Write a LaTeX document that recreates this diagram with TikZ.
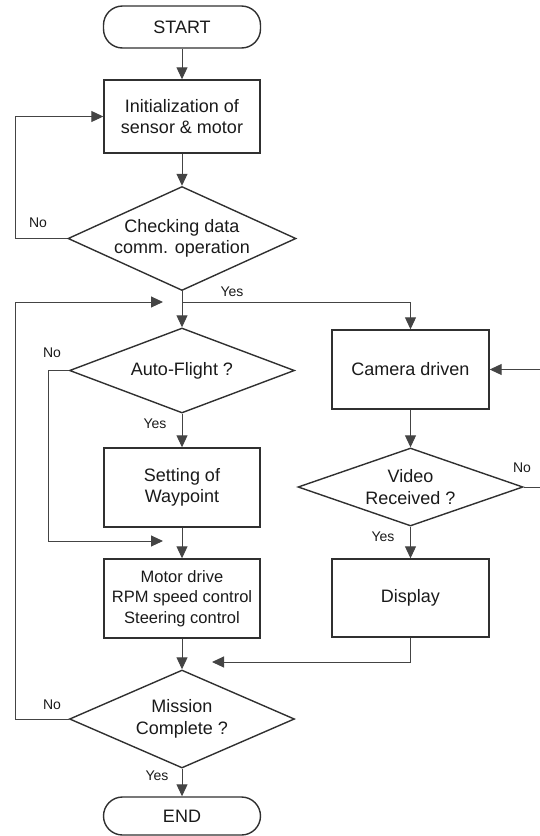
\documentclass[tikz,border=0pt]{standalone}
\usepackage{fontspec}
\setmainfont{Liberation Sans}
\usetikzlibrary{arrows.meta,shapes.geometric}
\definecolor{edgegray}{HTML}{444444}
\definecolor{boxline}{HTML}{303030}
\definecolor{inkc}{HTML}{1A1A1A}
\begin{document}
\begin{tikzpicture}[x=1pt,y=-1pt,
  base/.style={draw=boxline,line width=1.4pt,text=inkc,
    font=\fontsize{18pt}{21.5pt}\selectfont,align=center,inner sep=0pt},
  terminal/.style={base,rectangle,rounded corners=19pt,minimum width=157pt},
  process/.style={base,rectangle,minimum width=156pt,minimum height=79pt},
  decision/.style={base,diamond,shape aspect=2.2},
  flow/.style={draw=edgegray,line width=1pt,-{Triangle[length=12pt,width=11pt]}},
  wire/.style={draw=edgegray,line width=1pt},
  tag/.style={text=inkc,font=\fontsize{14pt}{16pt}\selectfont,inner sep=0pt}]

\clip (0,0) rectangle (540,836);

% main column
\node[terminal,minimum height=42pt] (start) at (182,27) {START};
\node[process,minimum height=73pt] (init) at (182,116.5) {Initialization of\\sensor \& motor};
\node[decision,minimum width=228pt,minimum height=104pt] (check) at (182,238.5) {Checking data\\comm. operation};
\coordinate (split) at (182,302);
\node[decision,minimum width=225pt,minimum height=85pt] (auto) at (182,370.5) {Auto-Flight ?};
\node[process] (wp) at (182,487.5) {Setting of\\Waypoint};
\node[process,font=\fontsize{16.5pt}{20.5pt}\selectfont] (motor) at (182,598.5) {Motor drive\\RPM speed control\\Steering control};
\node[decision,minimum width=225pt,minimum height=98pt] (mission) at (182,719) {Mission\\Complete ?};
\node[terminal,minimum height=38pt] (end) at (182,816) {END};

% camera column
\node[process,minimum width=157pt] (camera) at (410.5,369.5) {Camera driven};
\node[decision,minimum width=225pt,minimum height=78pt,shape aspect=2.9] (video) at (410.5,487) {Video\\Received ?};
\node[process,minimum width=157pt,minimum height=78pt] (display) at (410.5,598) {Display};

% straight flow
\draw[flow] (start) -- (init);
\draw[flow] (init) -- (check);
\draw[wire] (check.south) -- (split);
\draw[flow] (split) -- (auto);
\draw[flow] (split) -| (camera);
\draw[flow] (auto) -- (wp);
\draw[flow] (wp) -- (motor);
\draw[flow] (motor) -- (mission);
\draw[flow] (mission) -- (end);
\draw[flow] (camera) -- (video);
\draw[flow] (video) -- (display);

% loops and merges
\coordinate (leftrail) at (15,0);
\coordinate (siderail) at (48,0);
\coordinate (rightrail) at (552,0);
\coordinate (merge1) at (163,302);
\coordinate (merge2) at (163,541);
\coordinate (merge3) at (212,662);
\draw[flow] (check.west) -- (check.west -| leftrail) |- (init.west);
\draw[flow] (mission.west) -- (mission.west -| leftrail) |- (merge1);
\draw[flow] (auto.west) -- (auto.west -| siderail) |- (merge2);
\draw[flow] (display.south) |- (merge3);
\draw[flow] (video.east) -- (video.east -| rightrail) |- (camera.east);

% branch labels
\node[tag] (no1) at (38,223) {No};
\node[tag] (yes1) at (232,292) {Yes};
\node[tag] (no2) at (52,353) {No};
\node[tag] (yes2) at (155,424) {Yes};
\node[tag] (no3) at (522,468) {No};
\node[tag] (yes3) at (383,537) {Yes};
\node[tag] (no4) at (52,705) {No};
\node[tag] (yes4) at (157,776) {Yes};
\end{tikzpicture}
\end{document}
